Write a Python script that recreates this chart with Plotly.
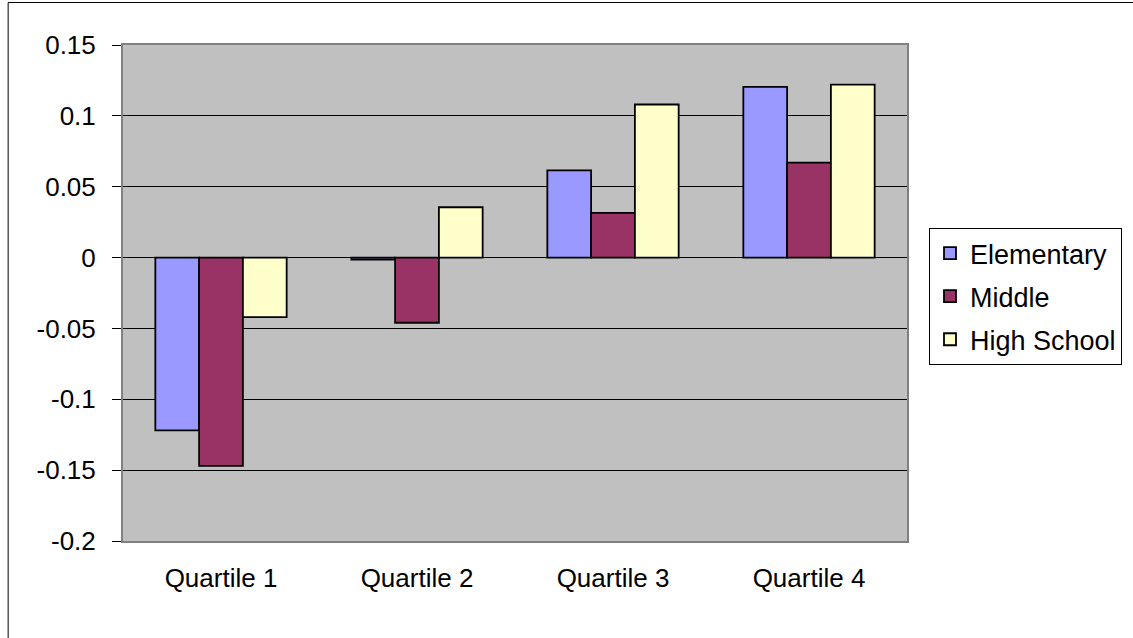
import plotly.graph_objects as go

quartiles = ["Quartile 1", "Quartile 2", "Quartile 3", "Quartile 4"]
elementary = [-0.122, -0.0015, 0.0615, 0.1205]
middle = [-0.147, -0.046, 0.0315, 0.067]
high_school = [-0.042, 0.0355, 0.108, 0.122]

y_ticks = [-0.2, -0.15, -0.1, -0.05, 0, 0.05, 0.1, 0.15]
y_tick_labels = ["-0.2", "-0.15", "-0.1", "-0.05", "0", "0.05", "0.1", "0.15"]

series = [
    ("Elementary", elementary, "#9999FF"),
    ("Middle", middle, "#993366"),
    ("High School", high_school, "#FFFFCC"),
]

W, H = 1133, 638
L, R, T, B = 123, 225, 45, 97

fig = go.Figure()
for name, vals, color in series:
    fig.add_trace(go.Bar(
        x=quartiles, y=vals, name=name, legendgroup=name,
        marker=dict(color=color, line=dict(color="black", width=1.8)),
    ))

font = dict(family="Liberation Sans, Arial, sans-serif", size=26, color="black")
legend_font = dict(family="Liberation Sans, Arial, sans-serif", size=27, color="black")

fig.update_layout(
    width=W, height=H,
    margin=dict(l=L, r=R, t=T, b=B, pad=0),
    paper_bgcolor="white",
    plot_bgcolor="#C0C0C0",
    barmode="group",
    bargap=0.33,
    bargroupgap=0,
    font=font,
    showlegend=True,
    legend=dict(
        x=(929 - L) / (W - L - R), y=(H - B - 228) / (H - B - T),
        xanchor="left", yanchor="top",
        bordercolor="black", borderwidth=1, bgcolor="white",
        font=legend_font, traceorder="grouped", tracegroupgap=5,
        itemwidth=30,
    ),
    xaxis=dict(
        showgrid=False, ticks="", showline=True, linecolor="#808080", linewidth=2,
        mirror=True, ticklabelstandoff=13, tickfont=font,
    ),
    yaxis=dict(
        range=[-0.2, 0.15], tickvals=y_ticks, ticktext=y_tick_labels,
        showgrid=True, gridcolor="black", gridwidth=1,
        zeroline=True, zerolinecolor="black", zerolinewidth=1,
        showline=True, linecolor="#808080", linewidth=2, mirror=True,
        ticks="outside", ticklen=9, tickcolor="black",
        ticklabelstandoff=11, tickfont=font,
    ),
)

# outer chart frame
fig.add_shape(
    type="rect", xref="paper", yref="paper",
    x0=(8 - L) / (W - L - R), x1=(W + 20 - L) / (W - L - R),
    y0=(H - B - (H + 20)) / (H - B - T), y1=(H - B - 2.5) / (H - B - T),
    line=dict(color="black", width=1), fillcolor="rgba(0,0,0,0)", layer="below",
)

fig.write_html("out.html")
